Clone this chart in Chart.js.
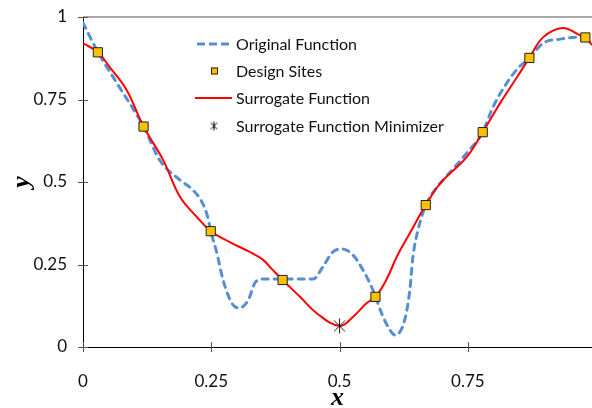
<!DOCTYPE html>
<html>
<head>
<meta charset="utf-8">
<script src="https://cdn.jsdelivr.net/npm/chart.js@4"></script>
<style>
  html, body { margin: 0; padding: 0; background: #fff; }
  #wrap { width: 592px; height: 408px; position: relative; }
</style>
</head>
<body>
<div id="wrap"><canvas id="chart" width="592" height="408"></canvas></div>
<script>
// original function (dashed)
const origX = [0, 0.029, 0.07, 0.118, 0.150, 0.189, 0.214, 0.233, 0.243, 0.249, 0.261, 0.273, 0.290, 0.304, 0.322, 0.335, 0.350, 0.389, 0.449, 0.467, 0.487, 0.504, 0.526, 0.549, 0.565, 0.582, 0.598, 0.608, 0.627, 0.637, 0.643, 0.653, 0.668, 0.690, 0.702, 0.748, 0.779, 0.799, 0.826, 0.848, 0.870, 0.897, 0.930, 0.963, 0.979, 0.992];
const origY = [0.982, 0.894, 0.790, 0.668, 0.565, 0.506, 0.476, 0.436, 0.394, 0.351, 0.284, 0.203, 0.133, 0.118, 0.142, 0.194, 0.206, 0.206, 0.206, 0.242, 0.288, 0.297, 0.279, 0.224, 0.173, 0.102, 0.052, 0.036, 0.082, 0.173, 0.273, 0.355, 0.430, 0.485, 0.506, 0.588, 0.651, 0.727, 0.800, 0.845, 0.876, 0.921, 0.933, 0.939, 0.938, 0.936];

// surrogate function (red)
const surrX = [0, 0.029, 0.052, 0.085, 0.118, 0.156, 0.189, 0.222, 0.249, 0.286, 0.325, 0.351, 0.370, 0.389, 0.423, 0.455, 0.500, 0.526, 0.553, 0.570, 0.591, 0.612, 0.637, 0.668, 0.696, 0.748, 0.779, 0.813, 0.846, 0.870, 0.897, 0.935, 0.968, 0.979, 0.992];
const surrY = [0.921, 0.893, 0.848, 0.779, 0.668, 0.567, 0.455, 0.394, 0.351, 0.318, 0.288, 0.264, 0.233, 0.203, 0.152, 0.103, 0.064, 0.091, 0.133, 0.152, 0.203, 0.275, 0.345, 0.430, 0.495, 0.576, 0.651, 0.739, 0.818, 0.876, 0.939, 0.967, 0.945, 0.938, 0.915];

// design sites
const siteX = [0.029, 0.118, 0.249, 0.389, 0.570, 0.668, 0.779, 0.870, 0.979];
const siteY = [0.893, 0.668, 0.351, 0.203, 0.152, 0.430, 0.651, 0.876, 0.938];

// minimizer
const minX = [0.5];
const minY = [0.064];

const xTicks = [0, 0.25, 0.5, 0.75];
const yTicks = [0, 0.25, 0.5, 0.75, 1];
const legendNames = ["Original Function", "Design Sites", "Surrogate Function", "Surrogate Function Minimizer"];

function pts(xs, ys) {
    return xs.map((x, i) => ({ x: x, y: ys[i] }));
}

// asterisk marker: vertical bar + X
function makeStar(size, lw) {
    const c = document.createElement("canvas");
    c.width = size + 2;
    c.height = size + 2;
    const g = c.getContext("2d");
    const m = (size + 2) / 2, r = size / 2;
    g.strokeStyle = "#000";
    g.lineWidth = lw;
    g.beginPath();
    g.moveTo(m, m - r); g.lineTo(m, m + r);
    const d = r * 0.72;
    g.moveTo(m - d, m - d); g.lineTo(m + d, m + d);
    g.moveTo(m - d, m + d); g.lineTo(m + d, m - d);
    g.stroke();
    return c;
}

const bigStar = makeStar(15, 0.9);
const smallStar = makeStar(9, 1);

// cross ticks, top line and legend
const extras = {
    id: "extras",
    afterDraw(chart) {
        const ctx = chart.ctx;
        const xs = chart.scales.x, ys = chart.scales.y;
        const a = chart.chartArea;
        ctx.save();

        ctx.strokeStyle = "#8c8c8c";
        ctx.lineWidth = 1.5;
        ctx.beginPath();
        ctx.moveTo(a.left, ys.getPixelForValue(1));
        ctx.lineTo(a.right, ys.getPixelForValue(1));
        ctx.stroke();

        ctx.strokeStyle = "#555";
        ctx.lineWidth = 1;
        ctx.beginPath();
        yTicks.forEach(v => {
            const y = Math.round(ys.getPixelForValue(v)) + 0.5;
            ctx.moveTo(a.left - 5, y);
            ctx.lineTo(a.left + 5, y);
        });
        xTicks.forEach(v => {
            const x = Math.round(xs.getPixelForValue(v)) + 0.5;
            ctx.moveTo(x, a.bottom - 5);
            ctx.lineTo(x, a.bottom + 5);
        });
        ctx.stroke();

        // legend
        const lx = 197, tx = 236, rows = [44, 71, 98, 126];
        ctx.font = "16px Lato";
        ctx.fillStyle = "#111";
        ctx.textBaseline = "middle";
        ctx.textAlign = "left";
        legendNames.forEach((name, i) => {
            ctx.fillText(name, tx, rows[i] + 1);
        });

        ctx.lineCap = "butt";
        ctx.strokeStyle = "#558ed5";
        ctx.lineWidth = 3;
        ctx.setLineDash([8, 4]);
        ctx.beginPath();
        ctx.moveTo(lx, rows[0]);
        ctx.lineTo(lx + 33, rows[0]);
        ctx.stroke();
        ctx.setLineDash([]);

        ctx.fillStyle = "#ffc000";
        ctx.strokeStyle = "#222";
        ctx.lineWidth = 1;
        ctx.fillRect(211, rows[1] - 3.5, 7, 7);
        ctx.strokeRect(211.5, rows[1] - 3, 6, 6);

        ctx.strokeStyle = "#ff0000";
        ctx.lineWidth = 2;
        ctx.beginPath();
        ctx.moveTo(lx - 2, rows[2]);
        ctx.lineTo(lx + 35, rows[2]);
        ctx.stroke();

        ctx.drawImage(smallStar, 214 - smallStar.width / 2, rows[3] - smallStar.height / 2);
        ctx.restore();
    }
};

new Chart(document.getElementById("chart"), {
    type: "line",
    data: {
        datasets: [
            {
                label: legendNames[0],
                data: pts(origX, origY),
                borderColor: "#558ed5",
                borderWidth: 3,
                borderDash: [6, 6],
                borderCapStyle: "round",
                cubicInterpolationMode: "monotone",
                pointRadius: 0,
                order: 3
            },
            {
                label: legendNames[1],
                data: pts(siteX, siteY),
                showLine: false,
                pointStyle: "rect",
                pointRadius: 6.5,
                pointBackgroundColor: "#ffc000",
                pointBorderColor: "#222",
                pointBorderWidth: 1,
                order: 1
            },
            {
                label: legendNames[2],
                data: pts(surrX, surrY),
                borderColor: "#ff0000",
                borderWidth: 2,
                tension: 0.4,
                pointRadius: 0,
                order: 2
            },
            {
                label: legendNames[3],
                data: pts(minX, minY),
                showLine: false,
                pointStyle: bigStar,
                pointRadius: 8,
                order: 0
            }
        ]
    },
    options: {
        responsive: false,
        animation: false,
        layout: { autoPadding: false, padding: { top: 17, right: 0, left: 0, bottom: 0 } },
        plugins: {
            legend: { display: false },
            tooltip: { enabled: false }
        },
        scales: {
            x: {
                type: "linear",
                min: 0,
                max: 0.992,
                afterBuildTicks: (s) => { s.ticks = xTicks.map(v => ({ value: v })); },
                afterFit: (s) => { s.height = 61; s.paddingLeft = 0; s.paddingRight = 0; },
                grid: { display: false, drawTicks: false },
                border: { display: true, color: "#000", width: 1 },
                ticks: {
                    padding: 24,
                    color: "#111",
                    font: { family: "Lato", size: 17 },
                    callback: (v) => String(v)
                },
                title: {
                    display: true,
                    text: "x",
                    color: "#000",
                    font: { family: "Liberation Serif", size: 26, weight: "bold", style: "italic", lineHeight: 1 },
                    padding: { top: 0, bottom: -3 }
                }
            },
            y: {
                type: "linear",
                min: 0,
                max: 1,
                afterBuildTicks: (s) => { s.ticks = yTicks.map(v => ({ value: v })); },
                afterFit: (s) => { s.width = 83; s.paddingTop = 0; s.paddingBottom = 0; },
                grid: { display: false, drawTicks: false },
                border: { display: true, color: "#000", width: 1 },
                ticks: {
                    padding: 16,
                    color: "#111",
                    font: { family: "Lato", size: 17 },
                    callback: (v) => String(v)
                },
                title: {
                    display: true,
                    text: "y",
                    color: "#000",
                    font: { family: "Liberation Serif", size: 26, weight: "bold", style: "italic", lineHeight: 1 },
                    padding: { top: 9, bottom: 0 }
                }
            }
        }
    },
    plugins: [extras]
});
</script>
</body>
</html>
